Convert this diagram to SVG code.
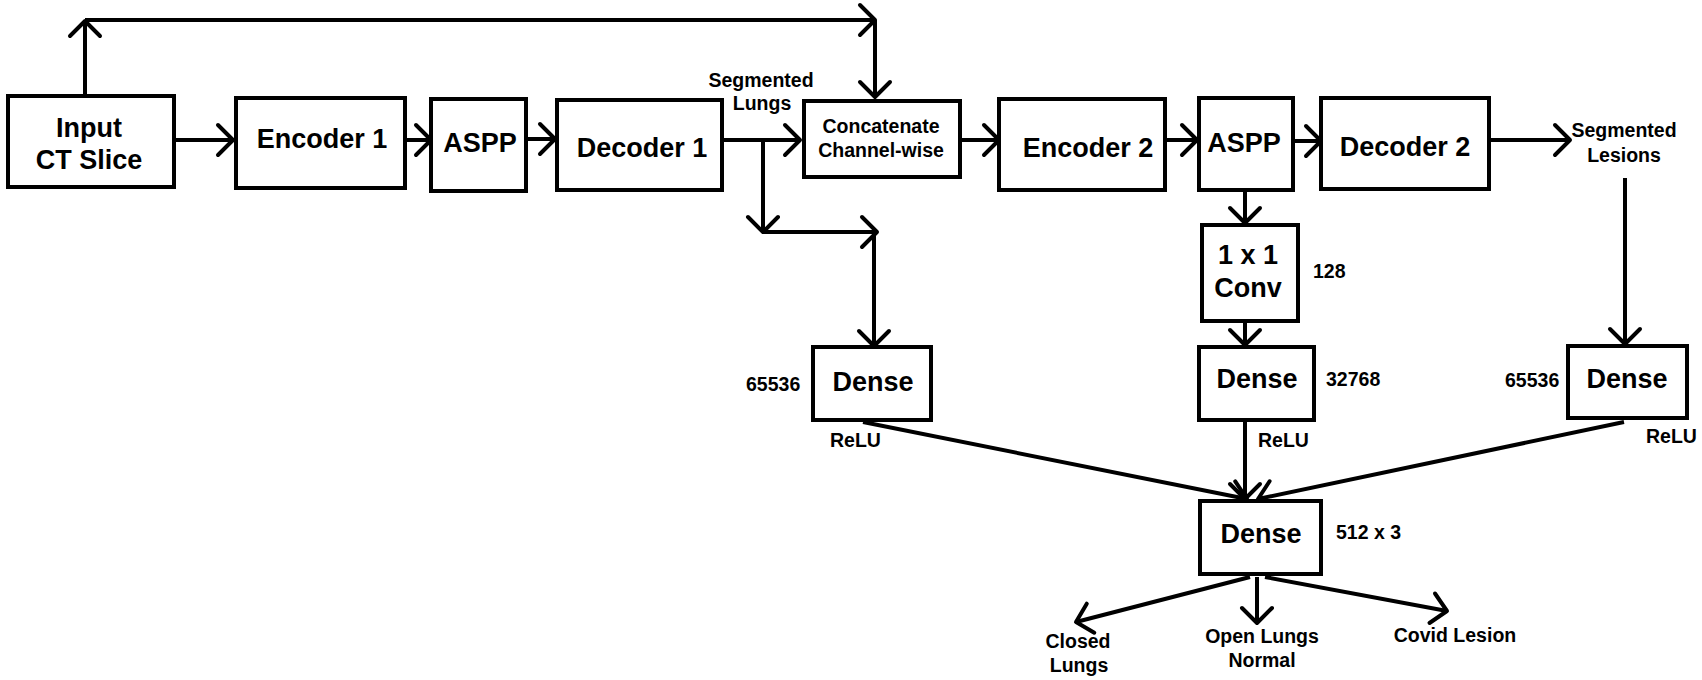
<svg xmlns="http://www.w3.org/2000/svg" width="1702" height="680" viewBox="0 0 1702 680">
<style>
.box{fill:#fff;stroke:#000;stroke-width:4}
.ln{fill:none;stroke:#000;stroke-width:4;marker-end:url(#arr)}
.big{font-family:"Liberation Sans",Arial,sans-serif;font-weight:bold;font-size:27px;text-anchor:middle;fill:#000}
.sm{font-family:"Liberation Sans",Arial,sans-serif;font-weight:bold;font-size:19.5px;fill:#000}
.c{text-anchor:middle}
</style>
<defs>
<marker id="arr" markerUnits="userSpaceOnUse" markerWidth="40" markerHeight="40" viewBox="0 0 40 40" refX="20" refY="20" orient="auto" overflow="visible">
<path d="M5,5 L20,20 L5,35" fill="none" stroke="#000" stroke-width="4" stroke-linecap="round" stroke-linejoin="round"/>
</marker>
</defs>
<rect width="1702" height="680" fill="#fff"/>
<g id="connectors">
<path class="ln" d="M85,94 L85,21"/>
<path class="ln" d="M85,20 L875,20"/>
<path class="ln" d="M875,20 L875,97"/>
<path class="ln" d="M176,140 L233,140"/>
<path class="ln" d="M407,140 L431,140"/>
<path class="ln" d="M528,139 L555,139"/>
<path class="ln" d="M724,140 L800,140"/>
<path class="ln" d="M763,140 L763,232"/>
<path class="ln" d="M763,232 L877,232"/>
<path class="ln" d="M874,232 L874,346"/>
<path class="ln" d="M962,140 L999,140"/>
<path class="ln" d="M1167,140 L1197,140"/>
<path class="ln" d="M1295,141 L1321,141"/>
<path class="ln" d="M1491,140 L1570,140"/>
<path class="ln" d="M1625,178 L1625,344"/>
<path class="ln" d="M1245,192 L1245,223"/>
<path class="ln" d="M1245,323 L1245,345"/>
<path class="ln" d="M863,422 L1247,499"/>
<path class="ln" d="M1245,422 L1245,499"/>
<path class="ln" d="M1624,422 L1258,499"/>
<path class="ln" d="M1250,577 L1076,622"/>
<path class="ln" d="M1257,577 L1257,623"/>
<path class="ln" d="M1265,577 L1447,611"/>
</g>
<g id="input"><rect class="box" x="8" y="96" width="166" height="91"/><text class="big" x="89" y="137">Input</text><text class="big" x="89" y="169">CT Slice</text></g>
<g id="encoder1"><rect class="box" x="236" y="98" width="169" height="90"/><text class="big" x="322" y="148">Encoder 1</text></g>
<g id="aspp1"><rect class="box" x="431" y="99" width="95" height="92"/><text class="big" x="480" y="152">ASPP</text></g>
<g id="decoder1"><rect class="box" x="557" y="100" width="165" height="90"/><text class="big" x="642" y="157">Decoder 1</text></g>
<g id="seg-lungs"><text class="sm c" x="761" y="87">Segmented</text><text class="sm c" x="762" y="110">Lungs</text></g>
<g id="concat"><rect class="box" x="804" y="101" width="156" height="76"/><text class="sm c" x="881" y="133">Concatenate</text><text class="sm c" x="881" y="157">Channel-wise</text></g>
<g id="encoder2"><rect class="box" x="999" y="99" width="166" height="91"/><text class="big" x="1088" y="157">Encoder 2</text></g>
<g id="aspp2"><rect class="box" x="1199" y="98" width="94" height="92"/><text class="big" x="1244" y="152">ASPP</text></g>
<g id="decoder2"><rect class="box" x="1321" y="98" width="168" height="91"/><text class="big" x="1405" y="156">Decoder 2</text></g>
<g id="seg-lesions"><text class="sm c" x="1624" y="137">Segmented</text><text class="sm c" x="1624" y="162">Lesions</text></g>
<g id="conv"><rect class="box" x="1202" y="225" width="96" height="96"/><text class="big" x="1248" y="264">1 x 1</text><text class="big" x="1248" y="297">Conv</text><text class="sm" x="1313" y="278">128</text></g>
<g id="dense-left"><rect class="box" x="813" y="347" width="118" height="73"/><text class="big" x="873" y="391">Dense</text><text class="sm" x="746" y="391">65536</text><text class="sm" x="830" y="447">ReLU</text></g>
<g id="dense-mid"><rect class="box" x="1199" y="347" width="115" height="73"/><text class="big" x="1257" y="388">Dense</text><text class="sm" x="1326" y="386">32768</text><text class="sm" x="1258" y="447">ReLU</text></g>
<g id="dense-right"><rect class="box" x="1568" y="346" width="119" height="72"/><text class="big" x="1627" y="388">Dense</text><text class="sm" x="1505" y="387">65536</text><text class="sm" x="1646" y="443">ReLU</text></g>
<g id="dense-out"><rect class="box" x="1200" y="501" width="121" height="73"/><text class="big" x="1261" y="543">Dense</text><text class="sm" x="1336" y="539">512 x 3</text></g>
<g id="out-closed"><text class="sm c" x="1078" y="648">Closed</text><text class="sm c" x="1079" y="672">Lungs</text></g>
<g id="out-normal"><text class="sm c" x="1262" y="643">Open Lungs</text><text class="sm c" x="1262" y="667">Normal</text></g>
<g id="out-covid"><text class="sm c" x="1455" y="642">Covid Lesion</text></g>
</svg>
